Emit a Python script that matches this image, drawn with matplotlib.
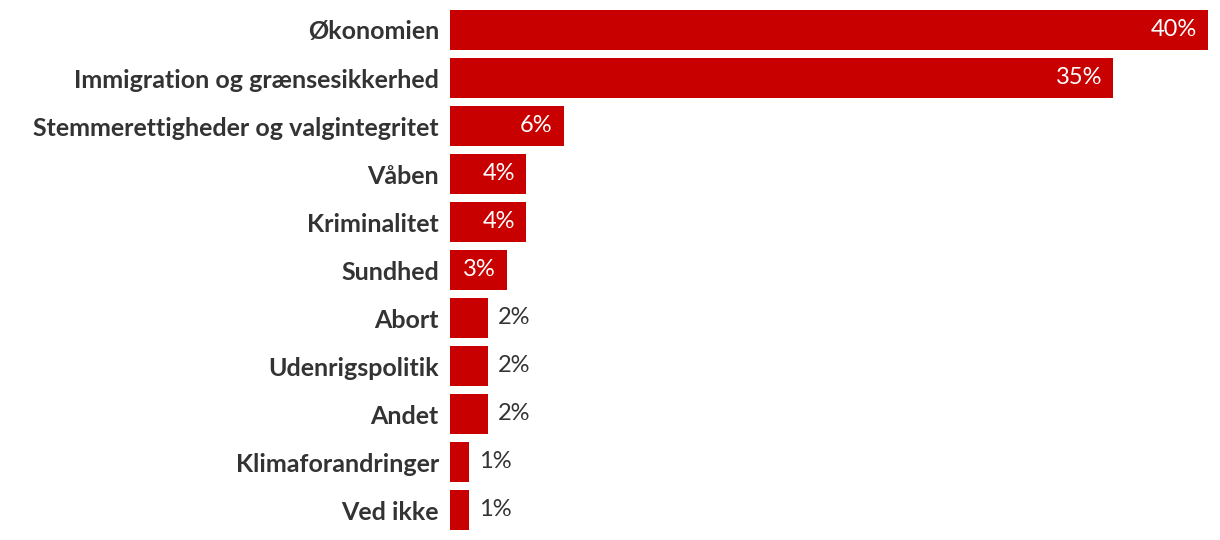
import matplotlib.pyplot as plt

categories = ['Økonomien', 'Immigration og grænsesikkerhed', 'Stemmerettigheder og valgintegritet',
              'Våben', 'Kriminalitet', 'Sundhed', 'Abort', 'Udenrigspolitik', 'Andet',
              'Klimaforandringer', 'Ved ikke']
values = [40, 35, 6, 4, 4, 3, 2, 2, 2, 1, 1]

bar_color = '#c80000'
text_color = '#333333'

plt.rcParams['font.family'] = ['Lato', 'DejaVu Sans']

fig = plt.figure(figsize=(12.2, 5.4), dpi=100)
ax = fig.add_axes([450 / 1220, 6 / 540, 758 / 1220, 528 / 540])

y = list(range(len(categories)))
ax.barh(y, values, height=0.83, color=bar_color)
ax.set_xlim(0, 40)
ax.set_ylim(len(categories) - 0.5, -0.5)

ax.set_yticks(y)
ax.set_yticklabels(categories, fontsize=18, fontweight='bold', color=text_color)
ax.tick_params(axis='y', length=0, pad=8)
ax.set_xticks([])
for s in ax.spines.values():
    s.set_visible(False)

for i, v in enumerate(values):
    if v >= 3:
        ax.annotate(f'{v}%', (v, i), xytext=(-11, 0), textcoords='offset pixels',
                    ha='right', va='center', color='white', fontsize=17)
    else:
        ax.annotate(f'{v}%', (v, i), xytext=(10, 0), textcoords='offset pixels',
                    ha='left', va='center', color=text_color, fontsize=17)

fig.savefig('out.png', dpi=100)
